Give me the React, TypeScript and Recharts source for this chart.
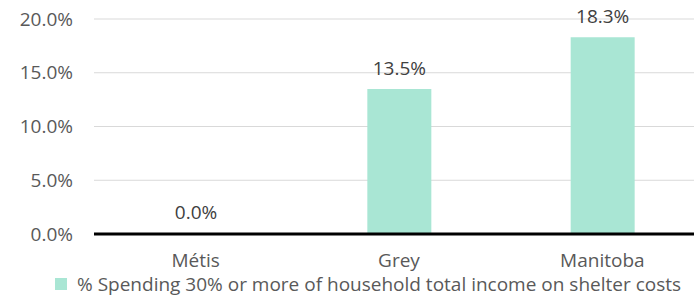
import { BarChart, Bar, XAxis, YAxis, CartesianGrid, Legend, LabelList, Cell } from 'recharts';

const regions = ['Métis', 'Grey', 'Manitoba'];
const shelterShare = [0.0, 0.135, 0.183];
const yTicks = [0, 0.05, 0.1, 0.15, 0.2];
const seriesName = '% Spending 30% or more of household total income on shelter costs';

const data = regions.map((r, i) => ({ name: r, value: shelterShare[i] }));

const FONT = '"Open Sans", sans-serif';
const BAR = '#a9e6d4';
const pct = (v: number) => (v * 100).toFixed(1) + '%';

function LegendBox() {
  return (
    <div style={{ display: 'flex', alignItems: 'center', marginLeft: 55, paddingTop: 7, lineHeight: '22px', fontFamily: FONT, fontSize: 19, color: '#595959', whiteSpace: 'nowrap' }}>
      <span style={{ width: 12, height: 12, background: BAR, display: 'inline-block', marginRight: 10 }} />
      <span>{seriesName}</span>
    </div>
  );
}

function TopLabel(props: any) {
  const { x, y, width, value } = props;
  return (
    <text
      x={Number(x) + Number(width) / 2}
      y={Number(y) - 14}
      textAnchor="middle"
      fill="#404040"
      fontSize={19}
      fontFamily={FONT}
    >
      {pct(Number(value))}
    </text>
  );
}

export default function App() {
  return (
    <div style={{ position: 'absolute', left: 0, top: 0, width: 694, height: 296, overflow: 'hidden', background: '#fff' }}>
      <BarChart width={704} height={296} data={data} margin={{ top: 19, right: 0, left: 0, bottom: 0 }}>
        <CartesianGrid vertical={false} stroke="#d9d9d9" />
        <XAxis
          dataKey="name"
          height={32}
          tickLine={false}
          tickSize={0}
          tickMargin={20}
          axisLine={{ stroke: '#000', strokeWidth: 3 }}
          tick={{ fill: '#595959', fontSize: 19, fontFamily: FONT }}
        />
        <YAxis
          width={94}
          domain={[0, 0.2]}
          ticks={yTicks}
          tickFormatter={pct}
          axisLine={false}
          tickLine={false}
          tickSize={0}
          tickMargin={21}
          tick={{ fill: '#595959', fontSize: 19, fontFamily: FONT }}
        />
        <Legend verticalAlign="bottom" height={30} wrapperStyle={{ left: 0, width: 694 }} content={<LegendBox />} />
        <Bar
          dataKey="value"
          name={seriesName}
          fill={BAR}
          barSize={64}
          minPointSize={(v: number) => (v === 0 ? 1 : 0)}
          isAnimationActive={false}
        >
          {data.map((d) => (
            <Cell key={d.name} fill={d.value === 0 ? 'transparent' : BAR} />
          ))}
          <LabelList dataKey="value" content={<TopLabel />} />
        </Bar>
      </BarChart>
    </div>
  );
}
